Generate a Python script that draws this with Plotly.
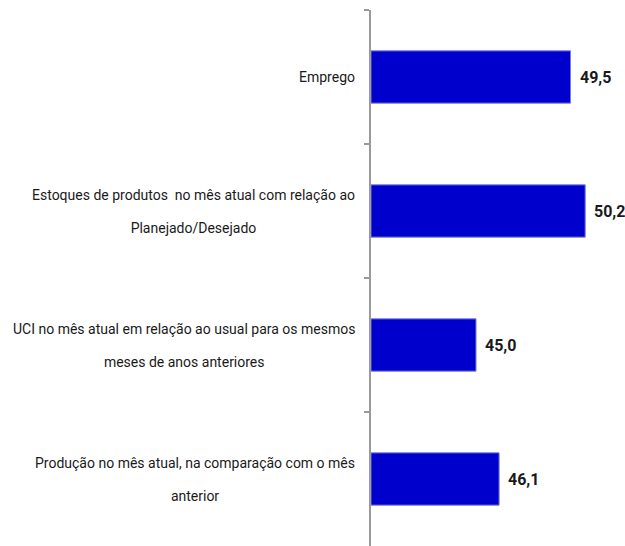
import plotly.graph_objects as go

# Data (top to bottom)
categories = ["Emprego", "Estoques", "UCI", "Produção"]
label_lines = [
    ["Emprego"],
    ["Estoques de produtos  no mês atual com relação ao", "Planejado/Desejado"],
    ["UCI no mês atual em relação ao usual para os mesmos", "meses de anos anteriores"],
    ["Produção no mês atual, na comparação com o mês", "anterior"],
]
values = [49.5, 50.2, 45.0, 46.1]
value_labels = ["49,5", "50,2", "45,0", "46,1"]
AXIS_MIN = 40

FONT = "Roboto, Liberation Sans, Arial, sans-serif"
TXT = "#1a1a1a"

fig = go.Figure()
fig.add_trace(go.Bar(
    y=categories, x=[v - AXIS_MIN for v in values], base=AXIS_MIN, orientation="h",
    marker=dict(color="#0000CC", line=dict(color="#7a7ae6", width=1)),
    hoverinfo="skip",
))

annotations = []
for cat, lines in zip(categories, label_lines):
    txt = "<br>".join(f"<span style='font-size:14px'>{l}</span>" for l in lines)
    annotations.append(dict(
        x=0, xref="paper", xanchor="right", xshift=-14,
        y=cat, yref="y", yanchor="middle",
        text=txt, align="center", showarrow=False,
        font=dict(family=FONT, size=25, color=TXT),
    ))
for cat, v, lab in zip(categories, values, value_labels):
    annotations.append(dict(
        x=v, xref="x", xanchor="left", xshift=7,
        y=cat, yref="y", yanchor="middle",
        text=f"<b>{lab}</b>", showarrow=False,
        font=dict(family=FONT, size=16, color=TXT),
    ))

fig.update_layout(
    width=625, height=546,
    margin=dict(l=371, r=2, t=10, b=0),
    paper_bgcolor="white", plot_bgcolor="white",
    showlegend=False, bargap=0.61,
    annotations=annotations,
    xaxis=dict(range=[AXIS_MIN, 52], visible=False),
    yaxis=dict(
        autorange="reversed", showticklabels=False,
        showline=True, linecolor="#9a9a9a", linewidth=2,
        ticks="outside", ticklen=5, tickcolor="#9a9a9a", tickwidth=2,
        tickson="boundaries", showgrid=False, zeroline=False,
    ),
)

fig.write_html(
    "out.html",
    config={"displayModeBar": False},
    post_script="document.body.style.margin='0';document.body.style.overflow='hidden';",
)
